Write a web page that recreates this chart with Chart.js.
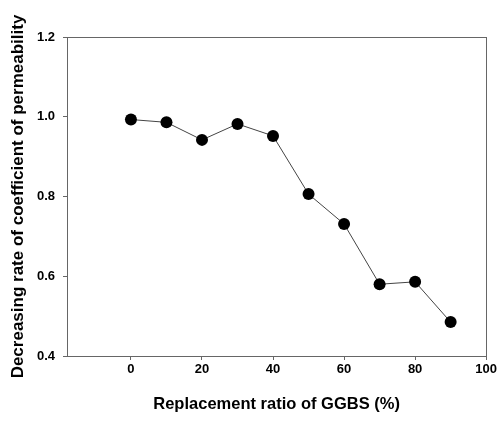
<!DOCTYPE html>
<html>
<head>
<meta charset="utf-8">
<script src="https://cdn.jsdelivr.net/npm/chart.js@4.4.0/dist/chart.umd.min.js"></script>
<style>
html,body{margin:0;padding:0;background:#fff;}
#wrap{width:499px;height:421px;}
</style>
</head>
<body>
<div id="wrap"><canvas id="c" width="499" height="421"></canvas></div>
<script>
const replacementRatio = [0, 10, 20, 30, 40, 50, 60, 70, 80, 90];
const decreasingRate = [0.993, 0.986, 0.942, 0.982, 0.952, 0.806, 0.731, 0.580, 0.586, 0.485];
const xTicks = [0, 20, 40, 60, 80, 100];
const yTicks = [0.4, 0.6, 0.8, 1.0, 1.2];

const FONT = "'Liberation Sans', Arial, sans-serif";

const frame = {
  id: 'frame',
  afterDatasetsDraw(chart) {
    const a = chart.chartArea, ctx = chart.ctx;
    ctx.save();
    ctx.strokeStyle = '#666';
    ctx.lineWidth = 1;
    ctx.strokeRect(Math.round(a.left) + 0.5, Math.round(a.top) + 0.5, Math.round(a.right - a.left), Math.round(a.bottom - a.top));
    ctx.restore();
  }
};

new Chart(document.getElementById('c'), {
  type: 'scatter',
  data: {
    datasets: [{
      data: replacementRatio.map((x, i) => ({x: x, y: decreasingRate[i]})),
      showLine: true,
      borderColor: '#444',
      borderWidth: 1,
      pointRadius: 6,
      pointHoverRadius: 6,
      pointBackgroundColor: '#000',
      pointBorderColor: '#000',
      pointBorderWidth: 0
    }]
  },
  options: {
    responsive: false,
    animation: false,
    events: [],
    layout: {padding: {left: 0, top: 37, right: 11, bottom: 0}},
    plugins: {legend: {display: false}, tooltip: {enabled: false}},
    scales: {
      x: {
        type: 'linear',
        min: -18,
        max: 100,
        afterBuildTicks: s => { s.ticks = xTicks.map(v => ({value: v})); },
        afterFit: s => { s.height = 65; },
        border: {display: true, color: '#666', width: 1},
        grid: {display: true, drawOnChartArea: false, drawTicks: true, tickLength: 4, color: '#666'},
        ticks: {color: '#000', padding: 2, font: {family: FONT, size: 13, weight: 'bold'}, maxRotation: 0},
        title: {display: true, text: 'Replacement ratio of GGBS (%)', color: '#000',
                font: {family: FONT, size: 16.5, weight: 'bold'}, padding: {top: 0, bottom: 7}}
      },
      y: {
        type: 'linear',
        min: 0.4,
        max: 1.2,
        afterBuildTicks: s => { s.ticks = yTicks.map(v => ({value: v})); },
        afterFit: s => { s.width = 67; },
        border: {display: true, color: '#666', width: 1},
        grid: {display: true, drawOnChartArea: false, drawTicks: true, tickLength: 4, color: '#666'},
        ticks: {color: '#000', padding: 8, font: {family: FONT, size: 13, weight: 'bold'},
                callback: v => v.toFixed(1)},
        title: {display: true, text: 'Decreasing rate of coefficient of permeability', color: '#000',
                font: {family: FONT, size: 17, weight: 'bold'}, padding: {top: 8, bottom: 0}}
      }
    }
  },
  plugins: [frame]
});
</script>
</body>
</html>
